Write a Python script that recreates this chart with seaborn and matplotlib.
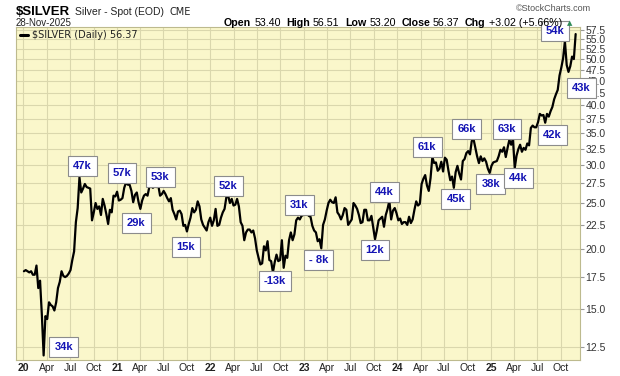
import numpy as np
import pandas as pd
import seaborn as sns
import matplotlib.pyplot as plt
from matplotlib.lines import Line2D

sns.set_theme(style="white")
plt.rcParams["font.family"] = ["Liberation Sans", "DejaVu Sans"]

W, H = 620, 376

# weekly (Friday) closes, $/oz
silver_2020 = [18.0, 18.1, 18.0, 17.9, 18.0,
               17.7, 17.7, 18.5, 16.6,
               17.2, 14.6, 12.0, 14.5,
               14.3, 15.5, 15.3, 15.2,
               14.9, 15.5, 16.6, 17.1, 18.0,
               17.6, 17.5, 17.6, 17.8,
               18.1, 19.0, 19.8, 22.8, 24.4,
               28.3, 26.3, 26.8, 27.4,
               27.0, 26.9, 26.8, 23.0,
               23.9, 25.0, 24.3, 24.6, 23.6,
               25.5, 24.7, 23.7, 22.6,
               24.2, 23.9, 25.9, 25.8]
silver_2021 = [26.4, 25.3, 25.4, 25.6, 26.9,
               27.6, 27.3, 27.3, 26.5,
               25.1, 26.0, 26.3, 25.1,
               24.3, 25.3, 25.9, 26.1, 25.9,
               27.0, 27.1, 26.9, 27.1,
               27.0, 27.2, 25.9, 26.1,
               26.5, 26.1, 25.6, 25.2, 25.6,
               24.2, 23.7, 23.1, 24.0,
               24.1, 23.7, 22.4, 22.5,
               21.8, 22.6, 23.3, 24.4, 23.9,
               24.2, 25.2, 24.6, 23.1,
               22.5, 22.2, 21.9, 22.8, 23.3]
silver_2022 = [22.4, 23.0, 24.3, 22.4,
               22.5, 23.3, 23.9, 24.3,
               25.7, 25.9, 25.0, 25.5,
               24.7, 24.8, 25.5, 24.6, 22.8,
               22.4, 20.9, 21.7, 22.0,
               22.0, 21.7, 21.9, 21.1,
               19.9, 19.2, 18.6, 18.7, 20.3,
               19.9, 20.8, 19.0, 18.9,
               17.9, 18.8, 19.5, 18.9, 19.0,
               20.9, 18.3, 19.4, 19.2,
               20.9, 21.7, 20.9, 21.5,
               23.0, 23.3, 23.1, 23.5, 23.6]
silver_2023 = [23.7, 23.8, 23.5, 23.4,
               22.4, 21.9, 21.7, 20.8,
               21.0, 20.1, 22.5, 23.1, 24.1,
               25.0, 25.4, 25.1, 25.0,
               25.7, 23.9, 23.6, 23.1,
               23.6, 24.4, 24.2, 22.5, 22.8,
               23.1, 25.0, 24.7, 24.3,
               23.6, 22.7, 22.8, 24.2,
               24.2, 23.0, 23.0, 23.5, 22.2,
               21.0, 21.9, 23.0, 23.2,
               23.4, 22.3, 23.6, 24.3,
               25.3, 23.1, 24.1, 24.4, 23.8]
silver_2024 = [23.0, 23.2, 22.6, 22.8,
               22.8, 22.5, 23.4, 22.7,
               23.1, 24.2, 25.2, 24.7, 24.9,
               27.4, 28.1, 28.6, 27.2,
               26.5, 28.2, 31.2, 30.3, 30.4,
               29.2, 29.5, 30.5, 29.1,
               31.1, 30.8, 29.2, 27.9,
               28.4, 26.9, 29.0, 29.9, 28.8,
               28.0, 30.6, 30.9, 31.8,
               32.1, 31.6, 33.7, 34.0,
               32.6, 31.3, 30.3, 31.3, 30.6,
               31.0, 30.5, 29.5, 28.9]
silver_2025 = [29.9, 30.4, 30.5, 30.6, 31.3,
               32.3, 32.0, 32.7, 31.2,
               32.6, 33.9, 33.1, 34.0,
               29.6, 31.4, 32.4, 33.1,
               32.0, 32.6, 32.3, 33.3, 33.0,
               35.9, 36.3, 36.0, 36.0,
               36.9, 38.4, 38.1, 38.2,
               36.8, 38.4, 37.9, 38.9, 39.7,
               41.2, 42.2, 43.1, 46.2,
               48.0, 50.2, 54.5, 48.6, 47.0,
               48.3, 50.6, 50.0, 56.4]

# COT net position call-outs
cot_labels = ["34k", "47k", "57k", "29k", "53k", "15k", "52k", "-13k", "31k", "- 8k", "12k",
              "44k", "61k", "45k", "66k", "38k", "63k", "44k", "42k", "54k", "43k"]
cot_dates = ["2020-03-20", "2020-08-07", "2021-02-05", "2021-04-02", "2021-06-11", "2021-10-01",
             "2022-03-11", "2022-09-02", "2022-12-30", "2023-03-10", "2023-10-06", "2023-12-01",
             "2024-05-17", "2024-08-09", "2024-10-25", "2024-12-27", "2025-03-28", "2025-04-04",
             "2025-08-01", "2025-10-17", "2025-10-31"]
# box centre offsets from the point, pixels (dx, dy up)
cot_offsets = [(20, 8), (3, 11), (-4, 9), (-4, -14), (2, 9), (-1, -16), (0, 10), (2, -9), (-4, 10),
               (-3, -12), (0, -11), (-5, 9), (-5, 10), (2, -11), (-7, 10), (1, -11), (-6, 10),
               (4, -10), (7, -12), (-10, 10), (13, -16)]

frames = []
for yr, vals in zip(range(2020, 2026),
                    [silver_2020, silver_2021, silver_2022, silver_2023, silver_2024, silver_2025]):
    d = pd.date_range(f"{yr}-01-01", f"{yr}-12-31", freq="W-FRI")
    d = d[d <= "2025-11-28"]
    frames.append(pd.DataFrame({"date": d, "close": vals}))
df = pd.concat(frames, ignore_index=True)

fig = plt.figure(figsize=(W / 100, H / 100), dpi=100)
fig.patch.set_facecolor("white")
ax = fig.add_axes([16 / W, 1 - 360 / H, (580 - 16) / W, (360 - 27) / H])
ax.set_facecolor("#FAF7CB")

sns.lineplot(data=df, x="date", y="close", color="black", lw=1.6, ax=ax, zorder=3)

ax.set_yscale("log")
ax.set_ylim(11.74, 58.35)
ax.set_xlim(pd.Timestamp("2019-12-03"), pd.Timestamp("2025-12-15"))

yt = np.arange(12.5, 57.6, 2.5)
ax.yaxis.tick_right()
ax.set_yticks(yt)
ax.set_yticklabels([f"{v:.1f}" for v in yt])
ax.minorticks_off()
ax.tick_params(axis="y", which="both", length=3, width=0.8, color="#999999", pad=1,
               labelsize=7.5, labelcolor="#333333")

qtr = pd.date_range("2020-01-01", "2025-10-01", freq="QS")
ax.set_xticks(qtr)
ax.set_xticklabels([f"{d:%y}" if d.month == 1 else f"{d:%b}" for d in qtr])
for lab, d in zip(ax.get_xticklabels(), qtr):
    if d.month == 1:
        lab.set_fontweight("bold")
        lab.set_fontsize(8)
ax.tick_params(axis="x", length=0, pad=2, labelsize=7.5, labelcolor="#222222")

ax.grid(True, color="#DAD7AD", lw=0.8)
ax.set_axisbelow(True)
for s in ax.spines.values():
    s.set_color("#BDBA8E")
    s.set_linewidth(0.8)
ax.set_xlabel("")
ax.set_ylabel("")

# COT boxes
for lab, d, (dx, dy) in zip(cot_labels, cot_dates, cot_offsets):
    d = pd.Timestamp(d)
    v = df.loc[df.date == d, "close"].iloc[0]
    ax.annotate(lab, xy=(d, v), xytext=(dx, dy), textcoords="offset pixels",
                ha="center", va="center", fontsize=8, fontweight="bold", color="#1414B4",
                annotation_clip=False, zorder=10,
                bbox=dict(boxstyle="square,pad=0.45", fc="white", ec="#8C8C8C", lw=0.8))

# header
fig.text(16 / W, 1 - 15 / H, "$SILVER", fontsize=9.5, fontweight="bold", color="black", va="baseline")
fig.text(75 / W, 1 - 15 / H, "Silver - Spot (EOD)", fontsize=7.5, color="#222222", va="baseline")
fig.text(170 / W, 1 - 15 / H, "CME", fontsize=7, color="#222222", va="baseline",
         family="DejaVu Sans")
fig.text(516 / W, 1 - 11 / H, "\u00a9StockCharts.com", fontsize=6.5, color="#555555", va="baseline")
fig.text(16 / W, 1 - 26 / H, "28-Nov-2025", fontsize=7, color="#222222", va="baseline")

fig.canvas.draw()
r = fig.canvas.get_renderer()
x = 224
pieces = [("Open", True), ("53.40", False), ("High", True), ("56.51", False),
          ("Low", True), ("53.20", False), ("Close", True), ("56.37", False),
          ("Chg", True), ("+3.02 (+5.66%)", False)]
for i, (s, bold) in enumerate(pieces):
    t = fig.text(x / W, 1 - 26 / H, s, fontsize=7.7, color="black", va="baseline",
                 fontweight="bold" if bold else "normal")
    x = t.get_window_extent(r).x1 + (3 if bold else 5.5)
fig.text(x / W, 1 - 25 / H, "\u25b2", fontsize=5, color="#2E8B57", va="baseline",
         family="DejaVu Sans")

# legend line
fig.add_artist(Line2D([20 / W, 28 / W], [1 - 35 / H, 1 - 35 / H], color="black", lw=2.2))
fig.text(32 / W, 1 - 38.5 / H, "$SILVER (Daily) 56.37", fontsize=7, color="#222222",
         va="baseline", family="DejaVu Sans")

fig.savefig("out.png", dpi=100)
